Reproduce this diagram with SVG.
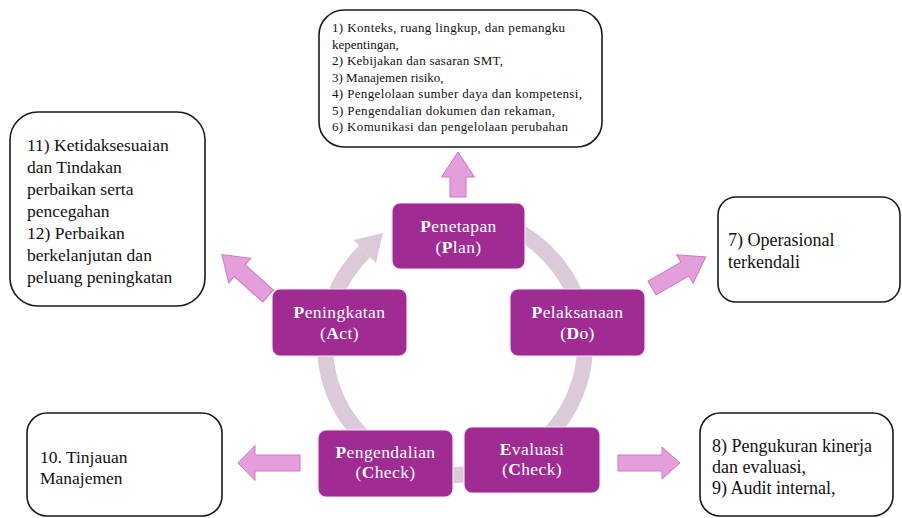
<svg xmlns="http://www.w3.org/2000/svg" width="902" height="518" viewBox="0 0 902 518">
<style>
.ring{fill:none;stroke:#dccadb;stroke-width:16}
.ringhead{fill:#dccadb}
.pbox{fill:#a02b93;stroke:#f3e6f1;stroke-width:1.2}
.ptxt{font-family:'Liberation Serif','DejaVu Serif',serif;font-size:17.5px;fill:#ffffff;text-anchor:middle;letter-spacing:0.4px}
.b{font-weight:bold}
.wbox{fill:#ffffff;stroke:#1a1a1a;stroke-width:1.6}
.wtxt{font-family:'Liberation Serif','DejaVu Serif',serif;font-size:17.5px;fill:#111111}
.stxt{font-family:'Liberation Serif','DejaVu Serif',serif;font-size:13px;fill:#111111}
.arr{fill:#e49edb;stroke:#cc78c2;stroke-width:1}
</style>
<rect width="902" height="518" fill="#ffffff"/>
<g id="connectors">
  <path class="ring" d="M 455 215 A 130 130 0 1 1 364.7 251.5"/>
  <polygon class="ringhead" points="353.5,240 376,263 383,233"/>
  <polygon class="arr" points="458,152 474.5,177 466,177 466,197 450,197 450,177 441.5,177"/>
  <g transform="translate(268,296) rotate(-138)"><polygon class="arr" points="0,-8 38,-8 38,-16.5 62,0 38,16.5 38,8 0,8"/></g>
  <g transform="translate(652,288) rotate(-30)"><polygon class="arr" points="0,-8 38,-8 38,-16.5 62,0 38,16.5 38,8 0,8"/></g>
  <polygon class="arr" points="618,455 662,455 662,447 680,463 662,479 662,471 618,471"/>
  <polygon class="arr" points="300,455 255,455 255,445.5 238,463 255,480.5 255,471 300,471"/>
</g>
<g id="plan">
  <rect class="pbox" x="392" y="203" width="133" height="66" rx="8"/>
  <text class="ptxt" x="458.5" y="232"><tspan class="b">P</tspan>enetapan</text>
  <text class="ptxt" x="458.5" y="253">(<tspan class="b">P</tspan>lan)</text>
</g>
<g id="act">
  <rect class="pbox" x="272" y="289" width="135" height="67" rx="8"/>
  <text class="ptxt" x="339.5" y="318"><tspan class="b">P</tspan>eningkatan</text>
  <text class="ptxt" x="339.5" y="339">(<tspan class="b">A</tspan>ct)</text>
</g>
<g id="do">
  <rect class="pbox" x="510" y="289" width="135" height="67" rx="8"/>
  <text class="ptxt" x="577.5" y="318"><tspan class="b">P</tspan>elaksanaan</text>
  <text class="ptxt" x="577.5" y="339">(<tspan class="b">D</tspan>o)</text>
</g>
<g id="check1">
  <rect class="pbox" x="318" y="430" width="135" height="67" rx="8"/>
  <text class="ptxt" x="385.5" y="458"><tspan class="b">P</tspan>engendalian</text>
  <text class="ptxt" x="385.5" y="478">(<tspan class="b">C</tspan>heck)</text>
</g>
<g id="check2">
  <rect class="pbox" x="464" y="427" width="136" height="66" rx="8"/>
  <text class="ptxt" x="532" y="455"><tspan class="b">E</tspan>valuasi</text>
  <text class="ptxt" x="532" y="475">(<tspan class="b">C</tspan>heck)</text>
</g>
<g id="box-plan">
  <rect class="wbox" x="319" y="10" width="283" height="137" rx="25"/>
  <text class="stxt" x="332" y="32" textLength="233" lengthAdjust="spacing">1) Konteks, ruang lingkup, dan pemangku</text>
  <text class="stxt" x="332" y="49">kepentingan,</text>
  <text class="stxt" x="332" y="65" textLength="171" lengthAdjust="spacing">2) Kebijakan dan sasaran SMT,</text>
  <text class="stxt" x="332" y="82">3) Manajemen risiko,</text>
  <text class="stxt" x="332" y="98" textLength="250" lengthAdjust="spacing">4) Pengelolaan sumber daya dan kompetensi,</text>
  <text class="stxt" x="332" y="115" textLength="223" lengthAdjust="spacing">5) Pengendalian dokumen dan rekaman,</text>
  <text class="stxt" x="332" y="131" textLength="236" lengthAdjust="spacing">6) Komunikasi dan pengelolaan perubahan</text>
</g>
<g id="box-act">
  <rect class="wbox" x="10" y="112" width="195" height="194" rx="28"/>
  <text class="wtxt" x="27" y="151">11) Ketidaksesuaian</text>
  <text class="wtxt" x="27" y="173">dan Tindakan</text>
  <text class="wtxt" x="27" y="195">perbaikan serta</text>
  <text class="wtxt" x="27" y="217">pencegahan</text>
  <text class="wtxt" x="27" y="239">12) Perbaikan</text>
  <text class="wtxt" x="27" y="261">berkelanjutan dan</text>
  <text class="wtxt" x="27" y="283">peluang peningkatan</text>
</g>
<g id="box-do">
  <rect class="wbox" x="718" y="197" width="182" height="105" rx="18"/>
  <text class="wtxt" x="728" y="246" style="font-size:18px">7) Operasional</text>
  <text class="wtxt" x="728" y="268" style="font-size:18px">terkendali</text>
</g>
<g id="box-check2">
  <rect class="wbox" x="700" y="413" width="193" height="103" rx="20"/>
  <text class="wtxt" x="712" y="452" style="font-size:18px">8) Pengukuran kinerja</text>
  <text class="wtxt" x="712" y="473" style="font-size:18px">dan evaluasi,</text>
  <text class="wtxt" x="712" y="494" style="font-size:18px">9) Audit internal,</text>
</g>
<g id="box-check1">
  <rect class="wbox" x="27" y="413" width="195" height="103" rx="20"/>
  <text class="wtxt" x="40" y="463">10. Tinjauan</text>
  <text class="wtxt" x="40" y="484">Manajemen</text>
</g>
</svg>
